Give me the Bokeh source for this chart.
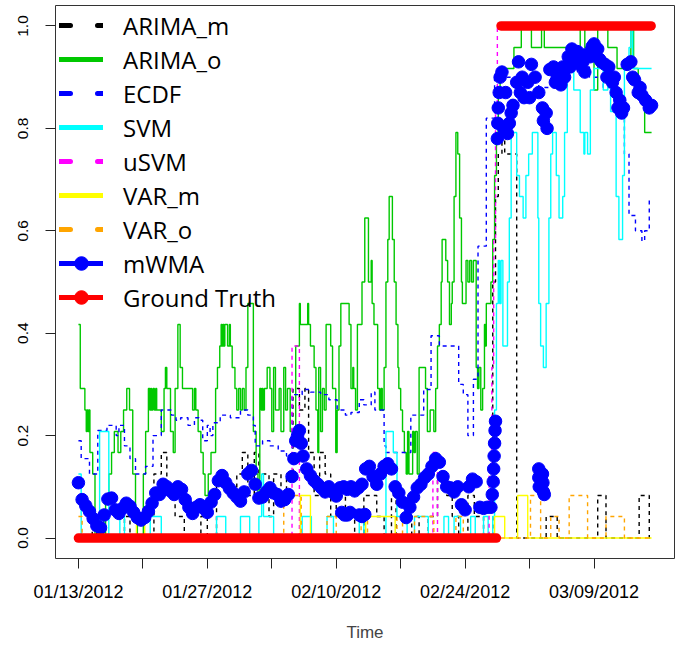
from bokeh.plotting import figure
from bokeh.models import Range1d, FixedTicker, Legend, LegendItem
from bokeh.embed import file_html
from bokeh.resources import INLINE

# ---------------- data (days since 01/13/2012, value) ----------------
END_DAY = 62.25

tick_days = [0, 7, 14, 21, 28, 35, 42, 49, 56]
tick_labels = ["01/13/2012", "", "01/27/2012", "", "02/10/2012", "", "02/24/2012", "", "03/09/2012"]
y_ticks = [0.0, 0.2, 0.4, 0.6, 0.8, 1.0]
y_tick_labels = ["0.0", "0.2", "0.4", "0.6", "0.8", "1.0"]

arima_m = [(0.0, 0), (1.5, .042), (2.0, 0), (5.0, .042), (5.6, 0), (8.2, .125), (9.0, .167), (9.6, .083),
           (10.5, .042), (11.5, 0), (13.3, .042), (14.0, 0), (15.0, .125), (16.2, .083), (17.2, .125),
           (17.8, .167), (18.4, .083), (19.1, .167), (19.6, .125), (20.7, .042), (21.2, .125), (22.0, .083),
           (22.6, .125), (23.3, .292), (24.0, .25), (24.6, .292), (25.0, .167), (25.6, .083), (26.2, .167),
           (26.8, .125), (27.4, .042), (28.0, .083), (29.0, .042), (30.0, 0), (31.0, .083), (32.4, .042),
           (33.2, 0), (34.0, .083), (34.5, 0), (36.2, .042), (37.0, 0), (38.0, .042), (39.0, .125),
           (40.0, .083), (40.6, .042), (41.3, 0), (42.3, .083), (43.0, .042), (44.0, 0), (45.0, .5),
           (45.3, .667), (45.6, .75), (46.0, .792), (46.3, .75), (47.6, 0), (50.8, .042), (52.0, 0),
           (56.4, .083), (57.3, 0), (60.9, .083), (62.0, 0)]

arima_o = [(0.0, .417), (0.2, .292), (0.7, .25), (0.85, .208), (0.95, .25), (1.05, .208), (1.15, .25),
           (1.25, .167), (1.55, .125), (1.8, 0), (2.4, .042), (2.75, 0), (2.95, .083), (3.3, .125),
           (3.6, .167), (3.9, .208), (4.3, .167), (4.6, .208), (4.9, .25), (5.25, .292), (5.55, .25),
           (5.9, .125), (6.2, .042), (6.4, 0), (7.05, .125), (7.3, .208), (7.6, .292), (7.75, .25),
           (7.85, .292), (7.95, .25), (8.1, .292), (8.25, .25), (8.4, .292), (8.5, .25), (9.0, .208),
           (9.3, .292), (9.45, .333), (9.6, .292), (10.0, .208), (10.3, .167), (10.5, .292), (10.8, .417),
           (11.05, .333), (11.3, .292), (12.4, .25), (12.6, .292), (12.75, .25), (13.0, .208), (13.3, .167),
           (13.55, .125), (13.75, .083), (14.1, .125), (14.4, .167), (14.9, .292), (15.1, .333),
           (15.35, .375), (15.5, .417), (15.6, .375), (15.7, .417), (15.8, .375), (15.9, .417),
           (16.2, .375), (16.4, .417), (16.5, .375), (16.7, .333), (17.0, .292), (17.2, .25), (17.4, .292),
           (17.6, .25), (17.8, .292), (18.0, .25), (18.2, .333), (18.4, .458), (19.0, .208), (19.3, .125),
           (19.5, .083), (19.7, .292), (19.85, .25), (19.95, .292), (20.05, .25), (20.2, .292), (20.5, .333),
           (20.8, .292), (21.0, .208), (21.2, .333), (21.4, .25), (21.8, .292), (22.0, .208), (22.3, .333),
           (22.5, .25), (22.7, .292), (23.0, .208), (23.6, .375), (24.0, .458), (24.1, .417), (24.9, .458),
           (25.0, .417), (25.2, .375), (25.6, .333), (25.8, .25), (26.0, .167), (26.1, .333), (26.3, .208),
           (26.5, .292), (26.7, .25), (26.9, .417), (27.4, .375), (27.6, .292), (27.95, .167), (28.1, .25),
           (28.3, .375), (28.5, .458), (29.4, .417), (29.6, .292), (29.8, .333), (29.9, .292), (30.1, .25),
           (30.3, .417), (30.8, .5), (31.1, .625), (31.5, .5), (31.8, .542), (31.9, .458), (32.1, .417),
           (32.5, .292), (32.7, .25), (32.85, .292), (33.0, .25), (33.2, .333), (33.4, .5), (33.6, .583),
           (33.75, .667), (34.1, .583), (34.3, .5), (34.5, .417), (34.7, .333), (34.8, .292), (35.0, .25),
           (35.2, .208), (35.4, .167), (35.6, .125), (35.75, .208), (35.9, .125), (36.3, .208),
           (36.45, .167), (36.6, .208), (36.8, .125), (37.0, .333), (37.7, .292), (37.9, .208), (38.2, .25),
           (38.6, .208), (38.8, .292), (39.0, .375), (39.2, .417), (39.4, .5), (39.5, .583), (39.9, .542),
           (40.1, .5), (40.3, .417), (40.5, .458), (40.6, .5), (40.8, .667), (41.0, .792), (41.2, .75),
           (41.4, .625), (41.6, .5), (41.7, .458), (42.1, .542), (42.3, .5), (42.5, .542), (42.7, .5),
           (42.9, .542), (43.2, .333), (43.35, .292), (43.5, .333), (43.7, .25), (43.9, .292), (44.1, .417),
           (44.2, .375), (44.3, .458), (44.8, .5), (45.0, .583), (45.2, .708), (45.4, .792), (45.6, .875),
           (45.8, .917), (47.3, .958), (48.1, 1.0), (49.2, .958), (50.3, 1.0), (50.6, .958), (54.5, 1.0),
           (55.0, .958), (56.0, .875), (56.4, 1.0), (57.5, .958), (58.5, .917), (60.0, 1.0), (60.3, .917),
           (60.8, .875), (61.5, .792)]

ecdf = [(0.0, .19), (0.3, .155), (1.2, .125), (2.1, .21), (3.1, .22), (4.1, .2), (4.4, .22), (5.0, .18),
        (5.6, .155), (6.2, .125), (7.3, .14), (8.1, .2), (9.0, .25), (10.1, .24), (10.6, .23), (11.1, .235),
        (11.9, .22), (12.6, .235), (13.1, .23), (13.5, .19), (14.0, .22), (14.3, .2), (14.6, .225),
        (15.4, .24), (16.5, .235), (17.6, .25), (18.4, .24), (19.0, .22), (19.2, .18), (20.0, .19),
        (20.8, .18), (21.7, .17), (22.6, .16), (23.2, .28), (24.3, .29), (25.2, .285), (26.3, .28),
        (27.2, .27), (28.1, .25), (29.0, .24), (29.6, .245), (30.5, .27), (31.0, .26), (31.8, .285),
        (32.2, .25), (33.2, .18), (33.4, .167), (36.1, .24), (37.5, .29), (38.3, .395), (39.2, .375),
        (41.3, .3), (41.8, .28), (42.3, .2), (42.9, .31), (43.4, .57), (44.3, .82), (45.2, .9),
        (48.0, .9), (50.0, .88), (52.0, .91), (54.2, .92), (55.5, .9), (57.0, .88), (58.2, .845),
        (59.3, .75), (59.8, .63), (60.5, .6), (61.2, .58), (61.5, .6), (62.0, .66)]

svm = [(0.0, .125), (0.3, 0), (2.3, .208), (3.3, 0), (4.5, .042), (5.0, 0), (7.8, .042), (9.0, 0),
       (15.0, .042), (16.0, 0), (17.6, .042), (18.6, 0), (19.6, .042), (19.9, .125), (20.1, .042),
       (21.2, 0), (24.3, .042), (25.3, 0), (27.0, .042), (27.7, 0), (30.5, .042), (31.0, 0), (33.4, .208),
       (34.2, .167), (34.6, .042), (35.7, 0), (36.5, .042), (38.0, 0), (39.7, .042), (40.2, 0),
       (40.8, .042), (41.5, 0), (42.6, .042), (43.1, 0), (44.0, .042), (44.5, 0), (45.0, .042),
       (45.2, .25), (45.4, .458), (45.6, .542), (45.75, .458), (45.9, .542), (46.1, .375), (46.6, .5),
       (46.8, .625), (47.0, .792), (47.6, .708), (47.9, .667), (48.3, .625), (48.6, .708), (48.9, .75),
       (49.3, .792), (49.9, .625), (50.0, .458), (50.2, .375), (50.5, .333), (50.8, .458), (51.1, .625),
       (51.3, .75), (51.5, .792), (51.9, .708), (52.2, .625), (52.6, .667), (52.8, .792), (53.1, .917),
       (53.8, .875), (54.5, .792), (54.9, .75), (55.0, .792), (55.3, .75), (55.6, .875), (56.0, .917),
       (57.0, .875), (57.5, .917), (57.8, .833), (58.4, .667), (58.7, .583), (59.1, .708), (59.3, .917),
       (59.8, .958), (60.0, 1.0), (60.2, .917)]

usvm = [(0.0, 0), (23.2, .375), (24.0, 0), (38.5, .167), (39.0, 0), (44.6, .125), (44.9, .333),
        (45.1, .583), (45.3, .833), (45.5, 1.0)]

var_m = [(0.0, 0), (6.3, .042), (7.2, 0), (24.1, .083), (25.2, 0), (31.2, .042), (34.4, 0),
         (45.2, .042), (46.3, 0), (47.7, .083), (48.8, 0)]

var_o = [(0.0, .042), (0.4, 0), (22.3, .083), (24.2, 0), (27.0, .042), (28.0, 0), (30.7, .042),
         (31.4, 0), (34.6, .042), (35.2, 0), (36.5, .042), (38.6, 0), (41.0, .042), (41.8, 0),
         (49.1, .083), (50.2, 0), (51.3, .042), (52.2, 0), (53.3, .083), (55.3, 0), (57.3, .042), (59.3, 0)]

mwma = [(0.0, .108), (0.4, .075), (0.8, .063), (1.2, .052), (1.6, .038), (2.0, .024), (2.4, .02),
        (2.8, .045), (3.2, .076), (3.6, .078), (4.0, .055), (4.4, .048), (4.8, .058), (5.2, .068),
        (5.6, .062), (6.0, .05), (6.4, .04), (6.8, .035), (7.2, .04), (7.6, .052), (8.0, .068),
        (8.4, .088), (8.8, .085), (9.2, .105), (9.6, .1), (10.0, .092), (10.4, .085), (10.8, .1),
        (11.2, .095), (11.6, .075), (12.0, .06), (12.4, .048), (12.8, .06), (13.2, .065), (13.6, .058),
        (14.0, .05), (14.4, .07), (14.8, .085), (15.2, .112), (15.6, .122), (16.0, .108), (16.4, .097),
        (16.8, .088), (17.2, .08), (17.6, .072), (18.0, .09), (18.4, .125), (18.8, .132), (19.2, .105),
        (19.6, .078), (20.0, .08), (20.4, .09), (20.8, .098), (21.2, .088), (21.6, .085), (22.0, .072),
        (22.4, .075), (22.8, .085), (23.2, .12), (23.4, .155), (23.6, .19), (23.8, .2), (24.0, .21),
        (24.2, .185), (24.4, .16), (24.8, .135), (25.2, .122), (25.6, .112), (26.0, .105), (26.4, .098),
        (26.8, .09), (27.2, .1), (27.6, .09), (28.0, .082), (28.4, .098), (28.8, .1), (29.2, .095),
        (29.6, .1), (30.0, .092), (30.4, .098), (30.8, .105), (31.2, .135), (31.6, .14), (32.0, .12),
        (32.4, .105), (32.8, .125), (33.2, .14), (33.6, .145), (34.0, .135), (34.4, .1), (34.8, .088),
        (35.2, .07), (35.6, .04), (36.0, .06), (36.4, .08), (36.8, .098), (37.2, .105), (37.6, .118),
        (38.0, .125), (38.4, .14), (38.8, .155), (39.2, .148), (39.6, .12), (40.0, .1), (40.4, .098),
        (40.8, .09), (41.2, .1), (41.6, .065), (42.0, .055), (42.4, .1), (42.8, .115), (43.2, .11),
        (43.6, .06), (44.0, .058), (44.4, .06), (44.8, .06), (44.95, .085), (45.05, .11), (45.1, .135),
        (45.15, .16), (45.2, .185), (45.25, .21), (45.3, .228),
        (28.6, .05), (28.9, .045), (29.2, .045), (29.5, .05), (30.5, .045), (30.8, .042), (31.1, .046),
        (45.5, .78), (45.55, .81), (45.6, .84), (45.7, .87), (45.8, .9), (46.0, .91), (46.4, .87),
        (46.8, .81), (47.2, .845), (47.6, .89), (48.0, .87), (48.4, .86), (48.8, .89), (49.2, .925),
        (49.6, .9), (50.0, .87), (50.4, .84), (50.8, .83), (51.2, .915), (51.6, .92), (52.0, .9),
        (52.4, .885), (52.8, .9), (53.2, .94), (53.6, .955), (54.0, .935), (54.4, .925), (54.8, .93),
        (55.2, .945), (55.6, .94), (56.0, .965), (56.4, .955), (56.8, .93), (57.2, .925), (57.6, .92),
        (58.0, .89), (58.4, .87), (58.8, .855), (59.2, .84), (59.6, .925), (60.0, .93), (60.4, .895),
        (60.8, .87), (61.2, .865), (61.6, .855), (62.0, .84), (62.25, .845),
        (46.2, .8), (46.6, .79), (47.0, .83), (47.8, .93), (50.5, .815), (50.9, .8), (58.6, .84), (59.0, .83),
        (48.2, .9), (49.0, .86), (51.8, .89), (52.6, .92), (53.4, .92), (54.2, .95), (55.0, .91),
        (55.8, .96), (56.6, .935), (57.4, .9), (58.2, .9), (60.2, .9), (61.0, .88),
        (50.0, .135), (50.0, .118), (50.05, .1), (50.4, .125), (50.45, .108), (50.5, .09), (50.6, .085)]

gt_start = [0.0, 45.9]
gt_end = [45.4, 62.2]
gt_value = [0.0, 1.0]

# ---------------- figure ----------------
FRAME_H = 553
pad = 0.04 * END_DAY
p = figure(width=680, height=644, output_backend="svg", toolbar_location=None,
           x_range=Range1d(-pad, END_DAY + pad), y_range=Range1d(-0.04, 1.04),
           min_border_left=55, min_border_right=6, min_border_top=5, min_border_bottom=86)
p.xgrid.visible = False
p.ygrid.visible = False
p.outline_line_color = "#333333"
p.outline_line_width = 1
p.background_fill_color = "white"
p.border_fill_color = "white"

TICK_FONT = "Liberation Sans"
p.xaxis.ticker = FixedTicker(ticks=tick_days)
p.xaxis.major_label_overrides = {d: lab for d, lab in zip(tick_days, tick_labels)}
p.yaxis.ticker = FixedTicker(ticks=y_ticks)
p.yaxis.major_label_overrides = {t: lab for t, lab in zip(y_ticks, y_tick_labels)}
for ax in (p.xaxis[0], p.yaxis[0]):
    ax.axis_line_color = None
    ax.major_tick_out = 10
    ax.major_tick_in = 0
    ax.major_tick_line_color = "#222222"
    ax.minor_tick_line_color = None
    ax.major_label_text_font = TICK_FONT
    ax.major_label_text_color = "black"
p.xaxis.major_label_text_font_size = "18px"
p.xaxis.major_label_standoff = 13
p.xaxis.axis_label = "Time"
p.xaxis.axis_label_text_font = TICK_FONT
p.xaxis.axis_label_text_font_size = "17px"
p.xaxis.axis_label_text_font_style = "normal"
p.xaxis.axis_label_standoff = 18
p.yaxis.major_label_text_font_size = "15.5px"
p.yaxis.major_label_orientation = "vertical"
p.yaxis.major_label_standoff = 17


def steps(pairs):
    xs = [d for d, v in pairs] + [END_DAY]
    ys = [v for d, v in pairs] + [pairs[-1][1]]
    return xs, ys


series = [
    ("ARIMA_m", arima_m, "#000000", "4 4"),
    ("ARIMA_o", arima_o, "#00C800", None),
    ("ECDF", ecdf, "#0000FF", "4 4"),
    ("SVM", svm, "#00FFFF", None),
    ("uSVM", usvm, "#FF00FF", "4 4"),
    ("VAR_m", var_m, "#FFFF00", None),
    ("VAR_o", var_o, "#FFA500", "4 4"),
]

nan = float("nan")
items = []
for name, pairs, color, dash in series:
    xs, ys = steps(pairs)
    kw = dict(line_color=color, line_width=1.4)
    if dash:
        kw["line_dash"] = dash
    p.step(xs, ys, mode="after", **kw)
    lkw = dict(line_color=color, line_width=5, line_cap="round")
    if dash:
        lkw["line_dash"] = "11 27"
    lr = p.line([nan, nan], [nan, nan], **lkw)
    items.append(LegendItem(label=name, renderers=[lr]))

# mWMA dots
p.scatter([d for d, v in mwma], [v for d, v in mwma], size=12.5, marker="circle",
          fill_color="#0000FF", line_color="#0000FF")
l1 = p.line([nan, nan], [nan, nan], line_color="#0000FF", line_width=5, line_cap="round")
s1 = p.scatter([nan], [nan], marker="circle", fill_color="#0000FF", line_color="#0000FF")
items.append(LegendItem(label="mWMA", renderers=[l1, s1]))

# Ground truth
p.multi_line([[s, e] for s, e in zip(gt_start, gt_end)], [[v, v] for v in gt_value],
             line_color="#FF0000", line_width=9.5, line_cap="round")
l2 = p.line([nan, nan], [nan, nan], line_color="#FF0000", line_width=5, line_cap="round")
s2 = p.scatter([nan], [nan], marker="circle", fill_color="#FF0000", line_color="#FF0000")
items.append(LegendItem(label="Ground Truth", renderers=[l2, s2]))

ITEM_H = 34
legend = Legend(items=items, location=(4, FRAME_H - 3 - 9 * ITEM_H), padding=0, margin=0, spacing=0,
                glyph_width=44, glyph_height=ITEM_H, label_height=ITEM_H, label_standoff=20,
                label_text_font="Open Sans", label_text_font_size="24px",
                background_fill_alpha=0, border_line_color=None)
legend.label_text_color = "black"
p.add_layout(legend, "center")

open("out.html", "w").write(file_html(p, INLINE))
